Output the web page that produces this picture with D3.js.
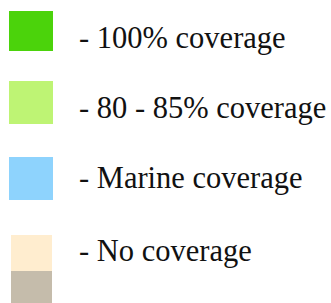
<!DOCTYPE html>
<html><head><meta charset="utf-8">
<script src="https://cdn.jsdelivr.net/npm/d3@7"></script>
<style>html,body{margin:0;padding:0;background:#fff;overflow:hidden}</style>
</head><body>
<script>
const labels = ["- 100% coverage", "- 80 - 85% coverage", "- Marine coverage", "- No coverage"];
const colors = [["#4bd30b"], ["#bef474"], ["#8ed3fd"], ["#ffedcf", "#c5bcab"]];

const W = 331, H = 303;
const svg = d3.select("body").append("svg").attr("width", W).attr("height", H);

// layout (pixel geometry)
const swTop = d3.scaleOrdinal().domain(d3.range(4)).range([11, 81, 157, 235]);
const swH = d3.scaleOrdinal().domain(d3.range(4)).range([40, 43, 43, 36]);
const swX = d3.scaleOrdinal().domain(d3.range(4)).range([9, 9, 9, 11]);
const swW = d3.scaleOrdinal().domain(d3.range(4)).range([44, 44, 44, 41]);
const baseY = d3.scaleOrdinal().domain(d3.range(4)).range([48, 118, 188, 261]);

const g = svg.selectAll("g.item").data(labels).join("g").attr("class", "item");
g.each(function(d, i) {
  const sel = d3.select(this);
  colors[i].forEach((c, j) => {
    sel.append("rect")
      .attr("x", swX(i))
      .attr("y", swTop(i) + j * swH(i))
      .attr("width", swW(i))
      .attr("height", j === 0 ? swH(i) : 32)
      .attr("fill", c);
  });
  sel.append("text")
    .attr("x", 79)
    .attr("y", baseY(i))
    .attr("font-family", "Liberation Serif")
    .attr("font-size", 30.5)
    .attr("fill", "#111")
    .text(d);
});
</script>
</body></html>
